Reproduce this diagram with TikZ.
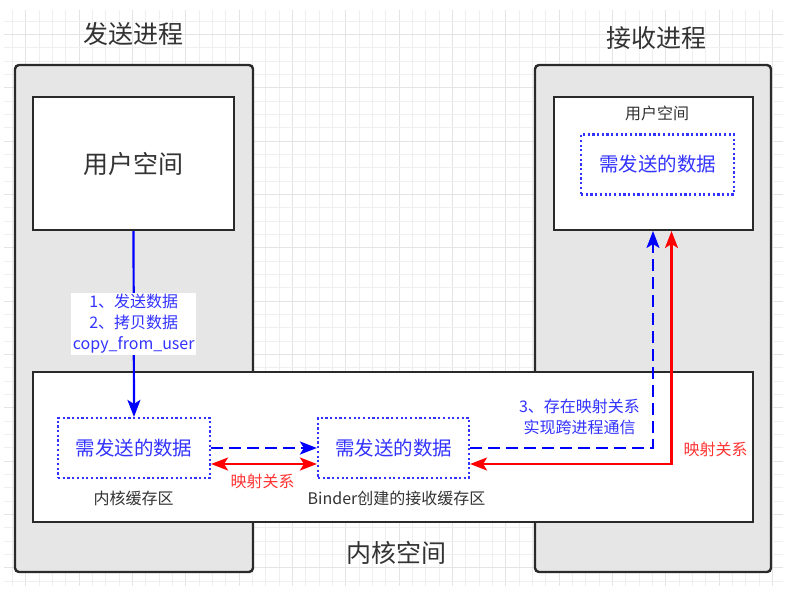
\documentclass[tikz,border=0pt]{standalone}
\usepackage{fontspec}
\setmainfont{Noto Sans CJK SC}
\usetikzlibrary{arrows.meta}
\definecolor{gridminor}{HTML}{EFEFEF}
\definecolor{gridmajor}{HTML}{E4E4E4}
\definecolor{procfill}{HTML}{E6E6E6}
\definecolor{border}{HTML}{2A2A2A}
\definecolor{txtgray}{HTML}{333333}
\definecolor{bluetxt}{HTML}{3333FF}
\definecolor{arrowblue}{HTML}{0000FF}
\definecolor{redline}{HTML}{FF0000}
\definecolor{redtxt}{HTML}{FF3333}
\tikzset{
  procbox/.style={draw=border, fill=procfill, line width=2.4pt, rounded corners=4pt, inner sep=0pt},
  userbox/.style={draw=border, fill=white, line width=2pt, inner sep=0pt},
  kernbox/.style={draw=border, fill=white, line width=2pt, inner sep=0pt},
  databox/.style={draw=bluetxt, line width=2.2pt, dash pattern=on 2.2pt off 2.5pt, inner sep=0pt,
     minimum height=60pt, text=bluetxt, font=\fontsize{19.5}{23}\selectfont},
  bigtitle/.style={text=txtgray, font=\fontsize{25}{30}\selectfont, inner sep=0pt},
  smalltxt/.style={text=txtgray, font=\fontsize{16}{21}\selectfont, inner sep=0pt},
  bluelabel/.style={text=bluetxt, font=\fontsize{16}{21}\selectfont, align=center},
  redlabel/.style={text=redtxt, font=\fontsize{16}{21}\selectfont, inner sep=0pt},
  tip/.tip={Stealth[length=17pt,width=13pt,inset=4pt]},
  bluearrow/.style={draw=arrowblue, line width=2.2pt, -tip},
  bluedash/.style={bluearrow, dash pattern=on 12pt off 6pt},
  redarrow/.style={draw=redline, line width=2.2pt, tip-tip}
}
\begin{document}
\begin{tikzpicture}[x=1pt,y=-1pt]
\useasboundingbox (0,0) rectangle (796,605);
\fill[white] (0,0) rectangle (796,605);
% background grid
\begin{scope}
\clip (4,10) rectangle (783,585);
\foreach \i in {0,...,58} {
  \pgfmathsetmacro\xx{12.33+13.333*\i}
  \pgfmathtruncatemacro\mm{mod(\i,4)}
  \ifnum\mm=1 \draw[gridmajor, line width=0.9pt] (\xx,0) -- (\xx,605);
  \else \draw[gridminor, line width=0.9pt] (\xx,0) -- (\xx,605); \fi
}
\foreach \j in {0,...,44} {
  \pgfmathsetmacro\yy{7.67+13.333*\j}
  \pgfmathtruncatemacro\mm{mod(\j,4)}
  \ifnum\mm=2 \draw[gridmajor, line width=0.9pt] (0,\yy) -- (796,\yy);
  \else \draw[gridminor, line width=0.9pt] (0,\yy) -- (796,\yy); \fi
}
\end{scope}

% titles
\node[bigtitle] (sendtitle) at (133.5,33.5) {发送进程};
\node[bigtitle] (recvtitle) at (656.5,38.5) {接收进程};

% process boxes
\node[procbox, minimum width=238pt, minimum height=507pt] (sendproc) at (134,318.5) {};
\node[procbox, minimum width=236pt, minimum height=507pt] (recvproc) at (653,318.5) {};

% user space boxes
\node[userbox, minimum width=201pt, minimum height=133pt, text=txtgray,
      font=\fontsize{25}{30}\selectfont] (senduser) at (133.5,163.5) {用户空间};
\node[userbox, minimum width=199pt, minimum height=133pt] (recvuser) at (653.5,163.5) {};
\node[smalltxt] (recvusertxt) at (657,113.5) {用户空间};
\node[databox, minimum width=153pt] (recvdata) at (657.5,164.5) {需发送的数据};

% kernel box
\node[kernbox, minimum width=720pt, minimum height=150pt] (kernel) at (393,447) {};
\node[bigtitle] (kerntitle) at (396,553) {内核空间};

% buffers
\node[databox, minimum width=152pt] (leftbuf) at (134,448) {需发送的数据};
\node[databox, minimum width=151pt] (midbuf) at (393.5,448) {需发送的数据};
\node[smalltxt] (leftbuftxt) at (133.5,498) {内核缓存区};
\node[smalltxt] (midbuftxt) at (396.5,498) {Binder创建的接收缓存区};

% arrows
\draw[bluearrow] (senduser.south) -- (leftbuf.north)
  node[midway, bluelabel, fill=white, inner sep=1.5pt] (lbl1) {1、发送数据\\2、拷贝数据\\copy\_from\_user};
\draw[bluedash] (leftbuf.east) -- (midbuf.west);
\draw[redarrow] ([yshift=-16pt]leftbuf.east) -- ([yshift=-16pt]midbuf.west);
\node[redlabel] (map1) at (262.5,481) {映射关系};

\draw[bluedash] (midbuf.east) -| ([xshift=-0.5pt]recvuser.south);
\draw[redarrow] ([yshift=-16pt]midbuf.east) -| ([xshift=18pt]recvuser.south);
\node[bluelabel, inner sep=0pt] (lbl3) at (579.5,416.5) {3、存在映射关系\\实现跨进程通信};
\node[redlabel] (map2) at (715.5,449) {映射关系};
\end{tikzpicture}
\end{document}
